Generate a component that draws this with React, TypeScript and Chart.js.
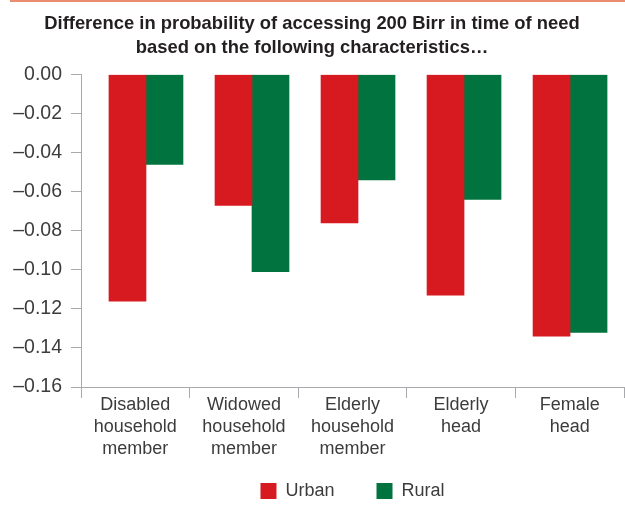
import React, { useEffect, useRef } from "react";
import { Chart, registerables } from "chart.js";

Chart.register(...registerables);

const categories: string[][] = [
  ["Disabled", "household", "member"],
  ["Widowed", "household", "member"],
  ["Elderly", "household", "member"],
  ["Elderly", "head"],
  ["Female", "head"],
];
const urbanValues = [-0.116, -0.067, -0.076, -0.113, -0.134];
const ruralValues = [-0.046, -0.101, -0.054, -0.064, -0.132];
const seriesNames = ["Urban", "Rural"];
const titleLines = [
  "Difference in probability of accessing 200 Birr in time of need",
  "based on the following characteristics\u2026",
];
const yMin = -0.16;
const yMax = 0;
const yStep = 0.02;

const FONT = "'Liberation Sans', Arial, sans-serif";
const AXIS_GRAY = "#a7a9ac";
const TEXT = "#3c3c3c";

export default function App() {
  const ref = useRef<HTMLCanvasElement | null>(null);
  useEffect(() => {
    if (!ref.current) return;
    const toPoints = (vals: number[]) => vals.map((v, i) => ({ x: i, y: v }));
    const chart = new Chart(ref.current, {
      type: "bar",
      data: {
        labels: categories,
        datasets: [
          {
            label: seriesNames[0],
            data: toPoints(urbanValues),
            xAxisID: "xb",
            backgroundColor: "#d71920",
            borderWidth: 0,
            barThickness: 37,
          },
          {
            label: seriesNames[1],
            data: toPoints(ruralValues),
            xAxisID: "xb",
            backgroundColor: "#00733f",
            borderWidth: 0,
            barThickness: 37,
          },
        ] as any,
      },
      options: {
        responsive: false,
        animation: false,
        devicePixelRatio: 1,
        layout: { padding: { left: 0, right: 1, top: 0, bottom: -2 } },
        plugins: {
          tooltip: { enabled: false },
          title: {
            display: true,
            text: titleLines,
            color: "#231f20",
            font: { family: FONT, size: 18.4, weight: "bold", lineHeight: 1.29 },
            padding: { top: 12, bottom: 15 },
          },
          legend: {
            display: true,
            position: "bottom",
            fullSize: false,
            labels: {
              boxWidth: 16,
              boxHeight: 16,
              padding: 42,
              color: TEXT,
              font: { family: FONT, size: 18 },
            },
          },
        },
        scales: {
          x: {
            type: "category",
            grid: {
              display: true,
              drawOnChartArea: false,
              drawTicks: true,
              tickLength: 11,
              color: AXIS_GRAY,
              lineWidth: 1,
              offset: true,
            },
            border: { display: true, color: AXIS_GRAY, width: 1 },
            ticks: {
              color: TEXT,
              autoSkip: false,
              maxRotation: 0,
              minRotation: 0,
              padding: -3.5,
              font: { family: FONT, size: 18, lineHeight: 1.222 },
            },
            afterFit: (scale: any) => {
              scale.height = 53;
              scale._computeLabelArea = () => undefined;
            },
          },
          xb: {
            type: "linear",
            display: false,
            offset: false,
            min: -0.613,
            max: 4.509,
            grid: { display: false },
          },
          y: {
            type: "linear",
            min: yMin,
            max: yMax,
            grid: {
              display: true,
              drawOnChartArea: false,
              drawTicks: true,
              tickLength: 10,
              color: AXIS_GRAY,
              lineWidth: 1,
            },
            border: { display: true, color: AXIS_GRAY, width: 1 },
            ticks: {
              stepSize: yStep,
              color: TEXT,
              padding: 9,
              font: { family: FONT, size: 19.5 },
              callback: (v: any) => {
                const n = Number(v);
                if (Math.abs(n) < 1e-9) return "0.00";
                return (n < 0 ? "\u2013" : "") + Math.abs(n).toFixed(2);
              },
            },
            afterFit: (scale: any) => {
              scale.width = 81;
            },
          },
        },
      } as any,
    });
    return () => chart.destroy();
  }, []);

  return (
    <div style={{ position: "fixed", left: 0, top: 0, width: 625, height: 508, background: "#fff" }}>
      <div
        style={{
          position: "absolute",
          left: 10,
          top: 0,
          right: 0,
          height: 2,
          background: "#e98d6f",
        }}
      />
      <canvas ref={ref} width={625} height={508} style={{ display: "block" }} />
    </div>
  );
}
